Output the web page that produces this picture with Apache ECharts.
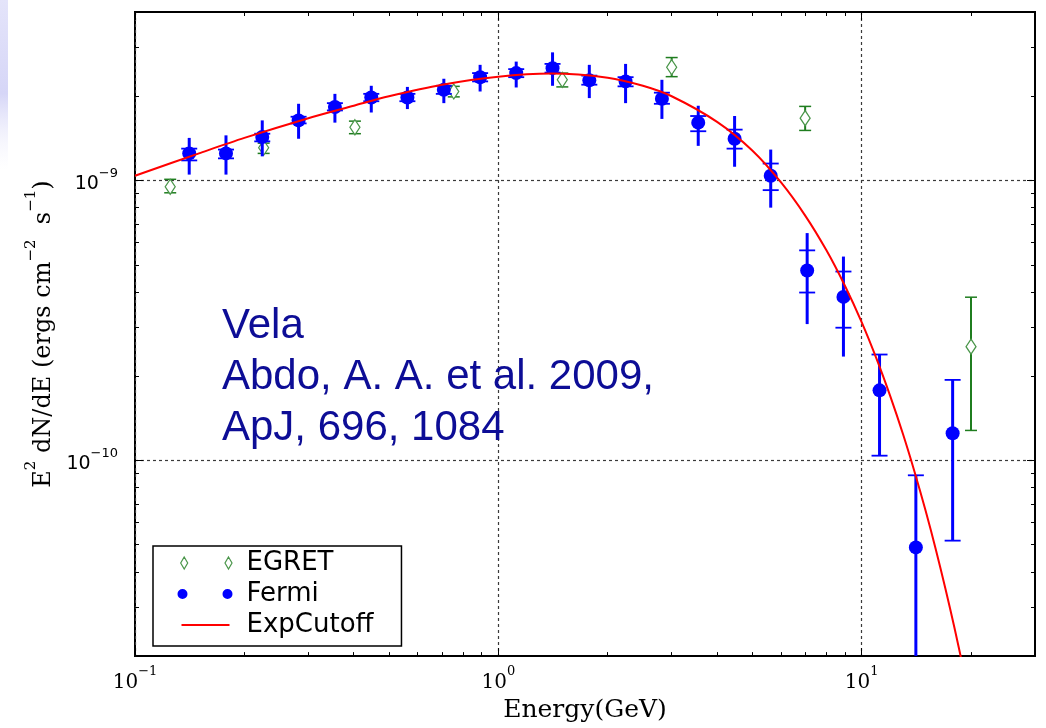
<!DOCTYPE html>
<html>
<head>
<meta charset="utf-8">
<script src="https://cdn.jsdelivr.net/npm/echarts@6/dist/echarts.min.js"></script>
<style>
  html, body { margin: 0; padding: 0; background: #fff; }
  #chart { width: 1046px; height: 728px; }
</style>
</head>
<body>
<div id="chart"></div>
<script>
// Vela pulsar spectrum: E^2 dN/dE in erg cm^-2 s^-1 versus energy in GeV

// ---- axis ranges and tick positions (data units) ----
const X_MIN = 0.1, X_MAX = 30;
const Y_MIN = 2e-11, Y_MAX = 4e-9;
const xMajorTicks = [0.1, 1, 10];
const xMinorTicks = [0.2, 0.3, 0.4, 0.5, 0.6, 0.7, 0.8, 0.9, 2, 3, 4, 5, 6, 7, 8, 9, 20];
const yMajorTicks = [1e-10, 1e-9];
const yMinorTicks = [3e-11, 4e-11, 5e-11, 6e-11, 7e-11, 8e-11, 9e-11,
                     2e-10, 3e-10, 4e-10, 5e-10, 6e-10, 7e-10, 8e-10, 9e-10,
                     2e-9, 3e-9];

// ---- Fermi LAT points ----
const fermiEnergy = [0.141, 0.178, 0.224, 0.282, 0.355, 0.447, 0.562, 0.708, 0.891, 1.12, 1.41,
                     1.78, 2.24, 2.82, 3.55, 4.47, 5.62, 7.08, 8.91, 11.2, 14.1, 17.8];
const fermiFlux   = [1.25e-9, 1.25e-9, 1.43e-9, 1.64e-9, 1.83e-9, 1.98e-9, 1.98e-9, 2.11e-9, 2.34e-9, 2.42e-9, 2.52e-9,
                     2.28e-9, 2.26e-9, 1.96e-9, 1.61e-9, 1.41e-9, 1.04e-9, 4.77e-10, 3.84e-10, 1.78e-10, 4.89e-11, 1.25e-10];
// total uncertainty (long bar); 0 = no lower bound
const fermiTotLo  = [1.05e-9, 1.05e-9, 1.22e-9, 1.41e-9, 1.61e-9, 1.75e-9, 1.80e-9, 1.89e-9, 2.08e-9, 2.15e-9, 2.18e-9,
                     1.97e-9, 1.89e-9, 1.66e-9, 1.33e-9, 1.12e-9, 8.0e-10, 3.07e-10, 2.35e-10, 1.04e-10, 0, 5.17e-11];
const fermiTotHi  = [1.42e-9, 1.45e-9, 1.64e-9, 1.88e-9, 2.04e-9, 2.18e-9, 2.16e-9, 2.31e-9, 2.59e-9, 2.66e-9, 2.87e-9,
                     2.59e-9, 2.61e-9, 2.29e-9, 1.85e-9, 1.70e-9, 1.29e-9, 6.49e-10, 5.35e-10, 2.39e-10, 8.85e-11, 1.94e-10];
// statistical uncertainty (capped bar)
const fermiStatLo = [1.18e-9, 1.20e-9, 1.38e-9, 1.60e-9, 1.78e-9, 1.92e-9, 1.92e-9, 2.04e-9, 2.26e-9, 2.34e-9, 2.43e-9,
                     2.20e-9, 2.17e-9, 1.88e-9, 1.50e-9, 1.30e-9, 9.24e-10, 3.98e-10, 2.98e-10, 1.04e-10, 0, 5.17e-11];
const fermiStatHi = [1.30e-9, 1.29e-9, 1.47e-9, 1.69e-9, 1.89e-9, 2.04e-9, 2.04e-9, 2.18e-9, 2.42e-9, 2.50e-9, 2.61e-9,
                     2.37e-9, 2.34e-9, 2.06e-9, 1.70e-9, 1.52e-9, 1.15e-9, 5.63e-10, 4.73e-10, 2.39e-10, 8.85e-11, 1.94e-10];

// ---- EGRET points ----
const egretEnergy = [0.125, 0.226, 0.403, 0.754, 1.50, 3.00, 6.99, 20.0];
const egretFlux   = [9.50e-10, 1.31e-9, 1.55e-9, 2.08e-9, 2.29e-9, 2.54e-9, 1.67e-9, 2.55e-10];
const egretLo     = [9.04e-10, 1.25e-9, 1.47e-9, 1.99e-9, 2.16e-9, 2.35e-9, 1.51e-9, 1.28e-10];
const egretHi     = [1.01e-9, 1.36e-9, 1.63e-9, 2.17e-9, 2.42e-9, 2.75e-9, 1.84e-9, 3.83e-10];

// ---- exponential cutoff power-law fit ----
const fitEnergy = [0.1, 0.15, 0.2, 0.3, 0.4, 0.5, 0.7, 1.0, 1.4, 2.0, 2.5, 3.0, 4.0, 5.0, 6.0, 7.0, 8.0,
                   9.0, 10, 11, 12, 13, 14, 15, 16, 17, 18, 19, 20];
const fitFlux   = [1.04e-9, 1.25e-9, 1.42e-9, 1.67e-9, 1.85e-9, 2.00e-9, 2.20e-9, 2.35e-9, 2.41e-9, 2.33e-9,
                   2.18e-9, 2.00e-9, 1.62e-9, 1.28e-9, 9.84e-10, 7.48e-10, 5.63e-10, 4.20e-10, 3.12e-10,
                   2.30e-10, 1.69e-10, 1.24e-10, 9.06e-11, 6.61e-11, 4.81e-11, 3.49e-11, 2.53e-11, 1.83e-11, 1.32e-11];

// ---- plotting in log10 space ----
const lg = Math.log10;
const xMin = lg(X_MIN), xMax = lg(X_MAX), yMin = lg(Y_MIN), yMax = lg(Y_MAX);
const logOrFloor = v => (v > 0 ? lg(v) : yMin - 1);   // non-positive bounds run off the bottom

const fermiBars = fermiEnergy.map((e, i) => [lg(e), logOrFloor(fermiTotLo[i]), logOrFloor(fermiTotHi[i]),
                                             logOrFloor(fermiStatLo[i]), logOrFloor(fermiStatHi[i])]);
const fermiPts = fermiEnergy.map((e, i) => [lg(e), lg(fermiFlux[i])]);
const egretBars = egretEnergy.map((e, i) => [lg(e), lg(egretLo[i]), lg(egretHi[i]), lg(egretLo[i]), lg(egretHi[i])]);
const egretPts = egretEnergy.map((e, i) => [lg(e), lg(egretFlux[i])]);
const fitPts = fitEnergy.map((e, i) => [lg(e), lg(fitFlux[i])]);

const FERMI_BLUE = '#0000ff';
const EGRET_GREEN = '#1f7d1f';
const EGRET_EDGE = '#4a964a';

function errorBarRenderer(color, barWidth, capWidth, capHalf) {
  return function (params, api) {
    const x = api.value(0);
    const lo = api.coord([x, api.value(1)]);
    const hi = api.coord([x, api.value(2)]);
    const children = [{
      type: 'line',
      shape: { x1: lo[0], y1: lo[1], x2: hi[0], y2: hi[1] },
      style: { stroke: color, lineWidth: barWidth }
    }];
    [api.value(3), api.value(4)].forEach(function (v) {
      if (v >= yMin) {
        const c = api.coord([x, v]);
        children.push({
          type: 'line',
          shape: { x1: c[0] - capHalf, y1: c[1], x2: c[0] + capHalf, y2: c[1] },
          style: { stroke: color, lineWidth: capWidth }
        });
      }
    });
    return { type: 'group', children: children };
  };
}

function powerLabel(v) {
  const e = Math.round(v);
  return '{b|10}{s|' + (e < 0 ? '\u2212' + (-e) : String(e)) + '}';
}

const GRID_DASH = { color: '#3a3a3a', width: 1.2, type: [3, 3] };

function axisBase(position, isX, ticks, len) {
  return {
    type: 'value',
    position: position,
    min: isX ? xMin : yMin,
    max: isX ? xMax : yMax,
    axisLine: { show: false, onZero: false },
    axisTick: { show: true, inside: true, length: len, customValues: ticks.map(lg),
                lineStyle: { color: '#000', width: 1 } },
    axisLabel: { show: false },
    splitLine: { show: false }
  };
}

const xMain = axisBase('bottom', true, xMajorTicks, 8);
xMain.splitLine = { show: true, lineStyle: GRID_DASH };
xMain.axisLabel = {
  show: true, customValues: xMajorTicks.map(lg), margin: 9,
  formatter: powerLabel,
  rich: {
    b: { fontFamily: 'DejaVu Serif', fontSize: 20, color: '#000', lineHeight: 28, verticalAlign: 'bottom' },
    s: { fontFamily: 'DejaVu Serif', fontSize: 13, color: '#000', lineHeight: 14, verticalAlign: 'top' }
  }
};
xMain.name = 'Energy(GeV)';
xMain.nameLocation = 'middle';
xMain.nameGap = 40;
xMain.nameTextStyle = { fontFamily: 'DejaVu Serif', fontSize: 25, color: '#000' };

const yMain = axisBase('left', false, yMajorTicks, 8);
yMain.splitLine = { show: true, lineStyle: GRID_DASH };
yMain.axisLabel = {
  show: true, customValues: yMajorTicks.map(lg), margin: 17,
  formatter: powerLabel,
  rich: {
    b: { fontFamily: 'DejaVu Sans', fontSize: 19, color: '#000', lineHeight: 26, verticalAlign: 'bottom' },
    s: { fontFamily: 'DejaVu Sans', fontSize: 13, color: '#000', lineHeight: 14, verticalAlign: 'top' }
  }
};
yMain.name = '{t|E}{s|2}{t| dN/dE (ergs cm}{s|\u22122}{t|  s}{s|\u22121}{t|)}';
yMain.nameLocation = 'middle';
yMain.nameRotate = 90;
yMain.nameGap = 74;
yMain.nameTextStyle = {
  rich: {
    t: { fontFamily: 'DejaVu Serif', fontSize: 24, color: '#000', lineHeight: 32, verticalAlign: 'bottom' },
    s: { fontFamily: 'DejaVu Serif', fontSize: 15, color: '#000', lineHeight: 16, verticalAlign: 'top' }
  }
};

const option = {
  animation: false,
  backgroundColor: '#ffffff',
  grid: { left: 135, right: 11, top: 12, bottom: 70, show: true, borderColor: '#000', borderWidth: 2, backgroundColor: 'transparent' },
  xAxis: [
    xMain,
    axisBase('bottom', true, xMinorTicks, 4),
    axisBase('top', true, xMajorTicks, 8),
    axisBase('top', true, xMinorTicks, 4)
  ],
  yAxis: [
    yMain,
    axisBase('left', false, yMinorTicks, 4),
    axisBase('right', false, yMajorTicks, 8),
    axisBase('right', false, yMinorTicks, 4)
  ],
  legend: {
    show: true,
    selectedMode: false,
    orient: 'vertical',
    left: 153, top: 546,
    padding: [2, 28, 6, 22],
    itemGap: 1,
    itemWidth: 64, itemHeight: 14,
    backgroundColor: '#fff',
    borderColor: '#000', borderWidth: 1.5, borderRadius: 0,
    textStyle: { fontFamily: 'DejaVu Sans', fontSize: 26, color: '#000', lineHeight: 30 },
    data: [
      { name: 'EGRET',
        icon: 'path://M0,0 M64,14 M6.7,1 L10.2,7 L6.7,13 L3.2,7 Z M51,1 L54.5,7 L51,13 L47.5,7 Z',
        itemStyle: { color: '#ffffff', borderColor: EGRET_EDGE, borderWidth: 1.2, opacity: 1 } },
      { name: 'Fermi',
        icon: 'path://M0,0 M64,14 M0,7 A5,5 0 1 0 10,7 A5,5 0 1 0 0,7 Z M45,7 A5,5 0 1 0 55,7 A5,5 0 1 0 45,7 Z',
        itemStyle: { color: FERMI_BLUE, borderWidth: 0, opacity: 1 } },
      { name: 'ExpCutoff',
        icon: 'path://M0,0 M64,14 M4,7 L52,7',
        itemStyle: { color: 'none', borderColor: '#ff0000', borderWidth: 2, opacity: 1 } }
    ]
  },
  graphic: [
    {
      type: 'rect', left: 0, top: 0, silent: true, z: -10,
      shape: { width: 8, height: 170 },
      style: {
        fill: new echarts.graphic.LinearGradient(0, 0, 0, 1, [
          { offset: 0, color: 'rgba(228,228,250,1)' },
          { offset: 0.55, color: 'rgba(214,214,247,1)' },
          { offset: 1, color: 'rgba(240,240,252,0)' }
        ])
      }
    },
    {
      type: 'text', left: 222, top: 301, z: 50, silent: true,
      style: {
        text: 'Vela\nAbdo, A. A. et al. 2009,\nApJ, 696, 1084',
        fontFamily: 'Liberation Sans', fontSize: 42, lineHeight: 51,
        fill: '#0d0d96'
      }
    }
  ],
  series: [
    {
      name: 'EGRET errors', type: 'custom', clip: true,
      renderItem: errorBarRenderer(EGRET_GREEN, 2, 1.5, 6),
      encode: { x: 0, y: [1, 2] },
      data: egretBars, z: 2
    },
    {
      name: 'EGRET', type: 'scatter',
      symbol: 'path://M4.5,0 L9,7 L4.5,14 L0,7 Z', symbolSize: [10, 15],
      itemStyle: { color: '#ffffff', borderColor: EGRET_EDGE, borderWidth: 1.3, opacity: 1 },
      data: egretPts, z: 3
    },
    {
      name: 'Fermi errors', type: 'custom', clip: true,
      renderItem: errorBarRenderer(FERMI_BLUE, 3, 1.8, 8),
      encode: { x: 0, y: [1, 2] },
      data: fermiBars, z: 4
    },
    {
      name: 'Fermi', type: 'scatter',
      symbol: 'circle', symbolSize: 14,
      itemStyle: { color: FERMI_BLUE, opacity: 1 },
      data: fermiPts, z: 5
    },
    {
      name: 'ExpCutoff', type: 'line',
      smooth: 0.3, showSymbol: false, symbol: 'none', clip: true,
      lineStyle: { color: '#ff0000', width: 2 },
      itemStyle: { color: '#ff0000' },
      data: fitPts, z: 6
    }
  ]
};

const chart = echarts.init(document.getElementById('chart'), null, { renderer: 'canvas' });
chart.setOption(option);
</script>
</body>
</html>
